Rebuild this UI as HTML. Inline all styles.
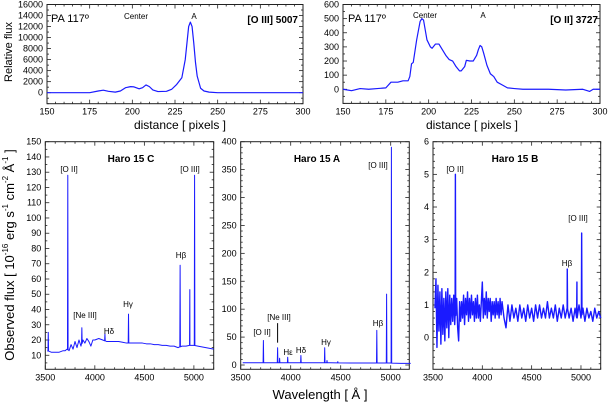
<!DOCTYPE html>
<html><head><meta charset="utf-8"><style>
body{margin:0;background:#fff}
svg{display:block;font-family:"Liberation Sans",sans-serif}
</style></head><body>
<svg id="fig" width="608" height="406" viewBox="0 0 608 406" xmlns="http://www.w3.org/2000/svg">
<text x="12" y="52" font-size="11" text-anchor="middle" transform="rotate(-90 12 52)">Relative flux</text>
<text x="180" y="129" font-size="12" text-anchor="middle">distance [ pixels ]</text>
<text x="472" y="129" font-size="12" text-anchor="middle">distance [ pixels ]</text>
<text x="14" y="255" font-size="13" text-anchor="middle" transform="rotate(-90 14 255)">Observed flux [ 10<tspan font-size="8" dy="-6">-16</tspan><tspan dy="6"> erg s</tspan><tspan font-size="8" dy="-6">-1</tspan><tspan dy="6"> cm</tspan><tspan font-size="8" dy="-6">-2</tspan><tspan dy="6"> Å</tspan><tspan font-size="8" dy="-6">-1</tspan><tspan dy="6"> ]</tspan></text>
<text x="320" y="399" font-size="13" text-anchor="middle">Wavelength [ Å ]</text>
</svg>
<script>
// ---- data ----
const oiiiDist=[150,175,180,183,186,190,193,196,199,201,204,206,208,210,212,215,220,223,226,229,231,232,233,234,235,236,237,238,240,242,245,250,300];
const oiiiFlux=[0,0,300,450,250,100,300,900,1100,1050,700,900,1400,1100,500,200,250,600,1500,2700,6000,9000,12000,12800,12000,9000,5500,3000,800,300,100,0,0];
const oiiDist=[150,155,160,165,170,175,178,182,185,188,189,190,191,193,195,196,197,198,199,201,202,204,206,208,210,212,214,216,218,219,221,222,224,226,228,229,230,231,232,234,236,238,240,243,246,250,255,270,280,290,294,296,300];
const oiiFlux=[0,-10,5,0,5,10,50,50,60,60,90,180,190,350,480,500,490,420,350,300,290,320,320,280,240,210,200,160,130,130,160,205,200,200,240,280,310,300,260,170,110,90,50,30,10,5,0,0,-5,0,-15,0,0];

const contWaveC=[3520,3560,3600,3640,3680,3700,3720,3740,3760,3780,3800,3820,3840,3860,3880,3900,3920,3940,3960,3980,4000,4040,4080,4120,4160,4200,4240,4280,4320,4360,4400,4440,4480,4520,4560,4600,4640,4680,4720,4760,4800,4840,4880,4920,4960,5000,5040,5080,5120,5160,5200];
const contFluxC=[13,12,12,12,13,13,14,13,17,14,19,15,20,16,20,18,21,19,16,20,20,21,20,19,19,19,19,18.5,18,18,18,18,18,17.5,17.5,17,17,16.5,16.5,16,16,15,16,16,16.5,16.5,16,15.5,15,14.5,14];
const lineWaveC=[3530,3727,3869,4102,4340,4861,4959,5007];
const linePeakC=[25,128,28,24,37,69,53,128];

const contWaveA=[3520,3600,3700,3800,3900,4000,4200,4400,4600,4800,5000,5100,5200];
const contFluxA=[4,4,4,4,4,4,4,4,3.5,3.5,3.5,3,3];
const lineWaveA=[3727,3869,3889,3970,4102,4340,4363,4471,4861,4959,5007];
const linePeakA=[44,31,12,14,17,31,8,6,62,127,390];

const contWaveB=[3520,3530,3540,3550,3560,3570,3580,3590,3600,3610,3620,3630,3640,3650,3660,3670,3680,3690,3700,3710,3720,3740,3750,3760,3770,3780,3790,3800,3810,3820,3830,3840,3850,3860,3870,3880,3890,3900,3910,3920,3930,3940,3950,3960,3970,3980,3990,4000,4010,4020,4030,4040,4050,4060,4070,4080,4090,4100,4110,4120,4130,4140,4150,4160,4170,4180,4190,4200,4220,4240,4260,4280,4300,4320,4340,4360,4380,4400,4420,4440,4460,4480,4500,4520,4540,4560,4580,4600,4620,4640,4660,4680,4700,4720,4740,4760,4780,4800,4820,4840,4860,4880,4900,4920,4940,4960,4980,5000,5020,5040,5060,5080,5100,5120,5140,5160,5180,5200];
const contFluxB=[0.9,1.8,-0.3,1.6,0.2,1.4,-0.2,1.5,0.1,1.2,-0.1,1.4,0.3,1.5,0.0,1.3,0.4,1.2,0.5,1.3,0.4,1.2,0.3,-0.1,1.1,0.5,1.1,0.6,1.3,0.4,1.2,0.7,1.4,0.5,1.2,0.6,1.3,0.7,1.1,0.5,1.2,0.6,1.3,0.6,1.0,0.5,1.1,1.7,0.6,1.2,0.7,1.4,0.6,1.2,0.8,1.2,0.5,1.1,0.7,1.1,0.6,1.2,0.7,1.1,0.6,1.2,0.7,1.1,0.6,0.3,1.0,0.5,1.0,0.6,0.9,0.5,1.0,0.6,0.9,0.5,1.0,0.6,0.9,0.5,1.0,0.6,1.0,0.6,0.9,0.6,1.1,0.6,0.9,0.6,1.0,0.5,0.9,0.6,1.0,0.6,0.9,0.6,0.9,0.5,0.9,0.6,1.0,0.6,0.9,0.5,0.9,0.6,0.8,0.5,0.9,0.6,0.8,0.6];
const lineWaveB=[3727,4861,4959,5007];
const linePeakB=[5.0,2.1,1.7,3.2];

const ticksTop1=[0,2000,4000,6000,8000,10000,12000,14000,16000];
const ticksTop2=[0,100,200,300,400,500,600];
const ticksDist=[150,175,200,225,250,275,300];
const ticksC=[10,20,30,40,50,60,70,80,90,100,110,120,130,140,150];
const ticksA=[0,50,100,150,200,250,300,350,400];
const ticksB=[0,1,2,3,4,5,6];
const ticksWave=[3500,4000,4500,5000];

// ---- drawing ----
const svg=document.getElementById('fig');
const NS='http://www.w3.org/2000/svg';
function mk(tag,attrs,parent){const e=document.createElementNS(NS,tag);for(const k in attrs)e.setAttribute(k,attrs[k]);(parent||svg).appendChild(e);return e;}
function scale(d0,d1,r0,r1){return v=>r0+(v-d0)/(d1-d0)*(r1-r0);}

function panel(name,box,xd,yd,xt,yt,xMinor,yMinor){
  const g=mk('g',{});
  
  
  const sx=scale(xd[0],xd[1],box.l,box.r), sy=scale(yd[0],yd[1],box.b,box.t);
  const fr=mk('rect',{x:box.l,y:box.t,width:box.r-box.l,height:box.b-box.t,fill:'none',stroke:'#222','stroke-width':1},g);
  
  
  for(let v=xd[0]-((xd[0]%xMinor)+xMinor)%xMinor;v<=xd[1];v+=xMinor){ if(v<xd[0])continue;
    const x=sx(v); const maj=xt.includes(v); const L=maj?4:2;
    mk('line',{x1:x,x2:x,y1:box.b,y2:box.b-L,stroke:'#222','stroke-width':0.8},g);
    mk('line',{x1:x,x2:x,y1:box.t,y2:box.t+L,stroke:'#222','stroke-width':0.8},g);}
  for(let v=Math.ceil(yd[0]/yMinor)*yMinor;v<=yd[1]+1e-9;v+=yMinor){
    const y=sy(v); const maj=yt.some(t=>Math.abs(t-v)<1e-9); const L=maj?4:2;
    mk('line',{x1:box.l,x2:box.l+L,y1:y,y2:y,stroke:'#222','stroke-width':0.8},g);
    mk('line',{x1:box.r,x2:box.r-L,y1:y,y2:y,stroke:'#222','stroke-width':0.8},g);}
  xt.forEach(v=>{const t=mk('text',{x:sx(v),y:box.b+11,'font-size':9,'text-anchor':'middle'},g);t.textContent=v;
    
    });
  yt.forEach(v=>{const t=mk('text',{x:box.l-4,y:sy(v)+3,'font-size':9,'text-anchor':'end'},g);t.textContent=v;
    
    });
  return {g,sx,sy};
}
function curve(p,xs,ys,name,w){
  const d=xs.map((x,i)=>(i?'L':'M')+p.sx(x).toFixed(2)+','+p.sy(ys[i]).toFixed(2)).join('');
  const e=mk('path',{d:d,fill:'none',stroke:'#1a1aff','stroke-width':w||1,'stroke-linejoin':'round'},p.g);
  
  
}
function spectrum(cw,cf,lw,lp){
  const pts=cw.map((w,i)=>[w,cf[i]]);
  const interp=w=>{for(let i=1;i<cw.length;i++)if(cw[i]>=w){const t=(w-cw[i-1])/(cw[i]-cw[i-1]);return cf[i-1]+t*(cf[i]-cf[i-1]);}return cf[cf.length-1];};
  lw.forEach((w,i)=>{const c=interp(w);pts.push([w-3,c],[w,lp[i]],[w+3,c]);});
  pts.sort((a,b)=>a[0]-b[0]);
  return [pts.map(p=>p[0]),pts.map(p=>p[1])];
}
function label(txt,x,y,size,name,bold,anchor){
  const t=mk('text',{x:x,y:y,'font-size':size,'text-anchor':anchor||'middle','font-weight':bold?'bold':'normal'});
  t.textContent=txt;
  
  
  return t;
}

const p1=panel('oiii-profile-panel',{l:47,r:303,t:4.5,b:103.7},[150,300],[-2000,16000],ticksDist,ticksTop1,5,1000);
curve(p1,oiiiDist,oiiiFlux,'oiii-profile-line',1.2);
const p2=panel('oii-profile-panel',{l:343,r:600,t:4.5,b:103.4},[150,300],[-100,600],ticksDist,ticksTop2,5,50);
curve(p2,oiiDist,oiiFlux,'oii-profile-line',1.2);

const pc=panel('haro15c-panel',{l:45.3,r:213.7,t:141.7,b:369.3},[3500,5200],[0.8,150],ticksWave,ticksC,100,5);
let s=spectrum(contWaveC,contFluxC,lineWaveC,linePeakC); curve(pc,s[0],s[1],'haro15c-spectrum',1);
const pa=panel('haro15a-panel',{l:240.7,r:409.3,t:141.7,b:369.3},[3500,5186],[-7.7,400],ticksWave,ticksA,100,10);
s=spectrum(contWaveA,contFluxA,lineWaveA,linePeakA); curve(pa,s[0],s[1],'haro15a-spectrum',1);
mk('line',{x1:pa.sx(3869),x2:pa.sx(3869),y1:pa.sy(40),y2:pa.sy(75),stroke:'#000','stroke-width':1});
const pb=panel('haro15b-panel',{l:433,r:600.7,t:141.7,b:369.3},[3500,5200],[-0.97,6],ticksWave,ticksB,100,0.2);
s=spectrum(contWaveB,contFluxB,lineWaveB,linePeakB); curve(pb,s[0],s[1],'haro15b-spectrum',1.4);

label('PA 117º',51,22,11,'pa-label-left',false,'start');
label('Center',136,19,8,'center-label-left');
label('A',194,19,8,'a-label-left');
label('[O III] 5007',298,23,10,'oiii-5007-title',true,'end');
label('PA 117º',348,22,11,'pa-label-right',false,'start');
label('Center',425,18,8,'center-label-right');
label('A',483,18,8,'a-label-right');
label('[O II] 3727',598,23,10,'oii-3727-title',true,'end');

label('Haro 15  C',131,162,10,'haro15c-title',true);
label('[O II]',69,172,8,'c-oii-label');
label('[O III]',190,172,8,'c-oiii-label');
label('Hβ',181,258,8,'c-hbeta-label');
label('[Ne III]',85,318,8,'c-neiii-label');
label('Hδ',109,334,8,'c-hdelta-label');
label('Hγ',128,307,8,'c-hgamma-label');

label('Haro 15 A',317,162,10,'haro15a-title',true);
label('[O III]',378,168,8,'a-oiii-label');
label('Hβ',378,326,8,'a-hbeta-label');
label('[O II]',262,335,8,'a-oii-label');
label('[Ne III]',279,320,8,'a-neiii-label');
label('Hε',288,355,8,'a-hepsilon-label');
label('Hδ',301,353,8,'a-hdelta-label');
label('Hγ',326,345,8,'a-hgamma-label');

label('Haro 15 B',515,162,10,'haro15b-title',true);
label('[O II]',455,172,8,'b-oii-label');
label('[O III]',578,221,8,'b-oiii-label');
label('Hβ',567,266,8,'b-hbeta-label');
</script>
</body></html>
